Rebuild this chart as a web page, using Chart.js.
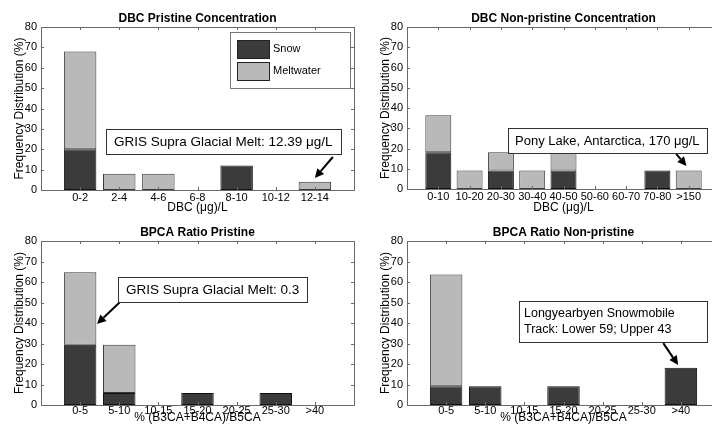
<!DOCTYPE html>
<html>
<head>
<meta charset="utf-8">
<script src="https://cdn.jsdelivr.net/npm/chart.js@4.4.0/dist/chart.umd.min.js"></script>
<style>
  html, body { margin: 0; padding: 0; background: #fff; overflow: hidden; width: 712px; height: 428px; }
  .panel { position: absolute; }
</style>
</head>
<body>
<div class="panel" style="left:0;top:0"><canvas id="c1" width="356" height="214"></canvas></div>
<div class="panel" style="left:356px;top:0"><canvas id="c2" width="372" height="214"></canvas></div>
<div class="panel" style="left:0;top:214px"><canvas id="c3" width="356" height="214"></canvas></div>
<div class="panel" style="left:356px;top:214px"><canvas id="c4" width="372" height="214"></canvas></div>
<script>
// Frequency distribution (%)
var dbcPristineBins = ['0-2', '2-4', '4-6', '6-8', '8-10', '10-12', '12-14'];
var dbcPristineSnow = [20, 0, 0, 0, 12, 0, 0];
var dbcPristineMelt = [48, 8, 8, 0, 0, 0, 4];

var dbcNonBins = ['0-10', '10-20', '20-30', '30-40', '40-50', '50-60', '60-70', '70-80', '>150'];
var dbcNonSnow = [18.2, 0, 9.1, 0, 9.1, 0, 0, 9.1, 0];
var dbcNonMelt = [18.2, 9.1, 9.1, 9.1, 9.1, 0, 0, 0, 9.1];

var bpcaBins = ['0-5', '5-10', '10-15', '15-20', '20-25', '25-30', '>40'];
var bpcaPristineSnow = [29.4, 5.9, 0, 5.9, 0, 5.9, 0];
var bpcaPristineMelt = [35.3, 23.5, 0, 0, 0, 0, 0];
var bpcaNonSnow = [9.1, 9.1, 0, 9.1, 0, 0, 18.2];
var bpcaNonMelt = [54.5, 0, 0, 0, 0, 0, 0];

var yTicks = [0, 10, 20, 30, 40, 50, 60, 70, 80];
var seriesNames = ['Snow', 'Meltwater'];

var SNOW = '#3b3b3b';
var MELT = '#b9b9b9';
var FONT = "'Liberation Sans', Arial, Helvetica, sans-serif";

Chart.defaults.font.family = FONT;
Chart.defaults.font.size = 11;
Chart.defaults.color = '#000';

function toPoints(vals) {
    return vals.map(function(v, i) { return { x: i + 1, y: v === 0 ? null : v }; });
}

function drawArrow(ctx, x1, y1, x2, y2) {
    var a = Math.atan2(y2 - y1, x2 - x1);
    var len = 9, hw = 4.5;
    var bx = x2 - len * Math.cos(a), by = y2 - len * Math.sin(a);
    ctx.strokeStyle = '#000';
    ctx.lineWidth = 2;
    ctx.beginPath();
    ctx.moveTo(x1, y1);
    ctx.lineTo(bx, by);
    ctx.stroke();
    ctx.fillStyle = '#000';
    ctx.beginPath();
    ctx.moveTo(x2, y2);
    ctx.lineTo(bx + hw * Math.sin(a), by - hw * Math.cos(a));
    ctx.lineTo(bx - hw * Math.sin(a), by + hw * Math.cos(a));
    ctx.closePath();
    ctx.fill();
}

function makePanel(id, cfg) {
    var ctx = document.getElementById(id).getContext('2d');

    var extras = {
        id: 'extras',
        afterDraw: function(chart) {
            var c = chart.ctx, a = chart.chartArea;
            var xs = chart.scales.x, ys = chart.scales.y;
            c.save();
            // axes box with inward ticks (matlab style)
            c.strokeStyle = '#6a6a6a';
            c.lineWidth = 1;
            c.strokeRect(Math.round(a.left) + 0.5, Math.round(a.top) + 0.5,
                Math.round(a.right - a.left), Math.round(a.bottom - a.top));
            c.beginPath();
            xs.ticks.forEach(function(t) {
                var px = Math.round(xs.getPixelForValue(t.value)) + 0.5;
                c.moveTo(px, a.bottom); c.lineTo(px, a.bottom - 3);
                c.moveTo(px, a.top); c.lineTo(px, a.top + 3);
            });
            ys.ticks.forEach(function(t) {
                var py = Math.round(ys.getPixelForValue(t.value)) + 0.5;
                c.moveTo(a.left, py); c.lineTo(a.left + 3, py);
                c.moveTo(a.right, py); c.lineTo(a.right - 3, py);
            });
            c.stroke();

            // title
            c.fillStyle = '#000';
            c.font = 'bold 12px ' + FONT;
            c.textAlign = 'center';
            c.textBaseline = 'middle';
            c.fillText(cfg.title, (a.left + a.right) / 2, 19);

            // legend (first panel only)
            if (cfg.legend) {
                var lx = a.right - 124, ly = a.top + 5, lw = 120, lh = 56;
                c.fillStyle = '#fff';
                c.fillRect(lx, ly, lw, lh);
                c.strokeStyle = '#777';
                c.strokeRect(lx + 0.5, ly + 0.5, lw, lh);
                var cols = [SNOW, MELT];
                c.font = '11px ' + FONT;
                c.textAlign = 'left';
                for (var i = 0; i < 2; i++) {
                    var sy = ly + 8 + i * 22;
                    c.fillStyle = cols[i];
                    c.fillRect(lx + 7, sy, 32, 18);
                    c.strokeStyle = '#222';
                    c.strokeRect(lx + 7.5, sy + 0.5, 32, 18);
                    c.fillStyle = '#000';
                    c.fillText(seriesNames[i], lx + 43, sy + 9);
                }
            }

            // annotation box and arrow
            var n = cfg.note;
            if (n) {
                c.font = n.size + 'px ' + FONT;
                var w = 0;
                n.lines.forEach(function(s) { w = Math.max(w, c.measureText(s).width); });
                var bw = Math.round(w + n.padL + n.padR), bh = n.lines.length * 16 + 9;
                var cx = xs.getPixelForValue(n.cx), cy = ys.getPixelForValue(n.cy);
                var bx = Math.round(cx - bw / 2), by = Math.round(cy - bh / 2);
                drawArrow(c, xs.getPixelForValue(n.tail[0]), ys.getPixelForValue(n.tail[1]),
                    xs.getPixelForValue(n.tip[0]), ys.getPixelForValue(n.tip[1]));
                c.fillStyle = '#fff';
                c.fillRect(bx, by, bw, bh);
                c.strokeStyle = '#333';
                c.lineWidth = 1;
                c.strokeRect(bx + 0.5, by + 0.5, bw, bh);
                c.fillStyle = '#000';
                c.textAlign = 'left';
                c.textBaseline = 'middle';
                n.lines.forEach(function(s, k) {
                    c.fillText(s, bx + n.padL, by + 4.5 + 8 + k * 16 + 0.5);
                });
            }
            c.restore();
        }
    };

    return new Chart(ctx, {
        type: 'bar',
        data: {
            datasets: [
                { label: seriesNames[0], data: toPoints(cfg.snow), backgroundColor: SNOW,
                  borderColor: '#111', borderWidth: 1, borderSkipped: false },
                { label: seriesNames[1], data: toPoints(cfg.melt), backgroundColor: MELT,
                  borderColor: '#3a3a3a', borderWidth: 1, borderSkipped: false }
            ]
        },
        options: {
            responsive: false,
            animation: false,
            layout: { padding: { left: 0, top: 27, right: cfg.padRight, bottom: 0 } },
            datasets: { bar: { barPercentage: 0.83, categoryPercentage: 1 } },
            plugins: { legend: { display: false }, tooltip: { enabled: false } },
            scales: {
                x: {
                    type: 'linear', stacked: true, offset: false, min: 0, max: cfg.bins.length + 1,
                    grid: { display: false, drawTicks: false }, border: { display: false },
                    afterBuildTicks: function(s) {
                        s.ticks = cfg.bins.map(function(b, i) { return { value: i + 1 }; });
                    },
                    afterFit: function(s) { s.height = cfg.xHeight; },
                    ticks: { autoSkip: false, maxRotation: 0, padding: cfg.xTickPad,
                        callback: function(v) { return cfg.bins[v - 1]; } },
                    title: { display: true, text: cfg.xTitle, font: { size: 12, lineHeight: 1 },
                        padding: { top: 0, bottom: cfg.xTitlePad } }
                },
                y: {
                    stacked: true, min: 0, max: 80,
                    grid: { display: false, drawTicks: false }, border: { display: false },
                    afterBuildTicks: function(s) {
                        s.ticks = yTicks.map(function(v) { return { value: v }; });
                    },
                    afterFit: function(s) { s.width = cfg.yWidth; },
                    ticks: { padding: 4 },
                    title: { display: true, text: 'Frequency Distribution (%)', font: { size: 12, lineHeight: 1 },
                        padding: { top: cfg.yWidth - 27, bottom: 0 } }
                }
            }
        },
        plugins: [extras]
    });
}

makePanel('c1', {
    title: 'DBC Pristine Concentration', bins: dbcPristineBins, snow: dbcPristineSnow, melt: dbcPristineMelt,
    xTitle: 'DBC (\u03bcg)/L', padRight: 2, yWidth: 41, xHeight: 24, xTickPad: 1, xTitlePad: 0, legend: true,
    note: { lines: ['GRIS Supra Glacial Melt: 12.39 \u03bcg/L'], size: 13.5, padL: 8, padR: 8, cx: 4.66, cy: 23.8,
        tail: [7.46, 16.2], tip: [7.0, 5.9] }
});

makePanel('c2', {
    title: 'DBC Non-pristine Concentration', bins: dbcNonBins, snow: dbcNonSnow, melt: dbcNonMelt,
    xTitle: 'DBC (\u03bcg)/L', padRight: 8, yWidth: 51, xHeight: 25, xTickPad: 1, xTitlePad: 0,
    note: { lines: ['Pony Lake, Antarctica, 170 \u03bcg/L'], size: 13, padL: 7, padR: 7, cx: 6.4, cy: 24,
        tail: [8.6, 17.3], tip: [8.93, 11.4] }
});

makePanel('c3', {
    title: 'BPCA Ratio Pristine', bins: bpcaBins, snow: bpcaPristineSnow, melt: bpcaPristineMelt,
    xTitle: '% (B3CA+B4CA)/B5CA', padRight: 2, yWidth: 41, xHeight: 23, xTickPad: -1, xTitlePad: 4,
    note: { lines: ['GRIS Supra Glacial Melt: 0.3'], size: 13.5, padL: 8, padR: 8, cx: 4.39, cy: 56.2,
        tail: [2.02, 50.2], tip: [1.43, 39.5] }
});

makePanel('c4', {
    title: 'BPCA Ratio Non-pristine', bins: bpcaBins, snow: bpcaNonSnow, melt: bpcaNonMelt,
    xTitle: '% (B3CA+B4CA)/B5CA', padRight: 8, yWidth: 51, xHeight: 23, xTickPad: -1, xTitlePad: 4,
    note: { lines: ['Longyearbyen Snowmobile', 'Track: Lower 59; Upper 43'], size: 12.5, padL: 5, padR: 32,
        cx: 5.26, cy: 40.6, tail: [6.55, 30.2], tip: [6.93, 19.5] }
});
</script>
</body>
</html>
